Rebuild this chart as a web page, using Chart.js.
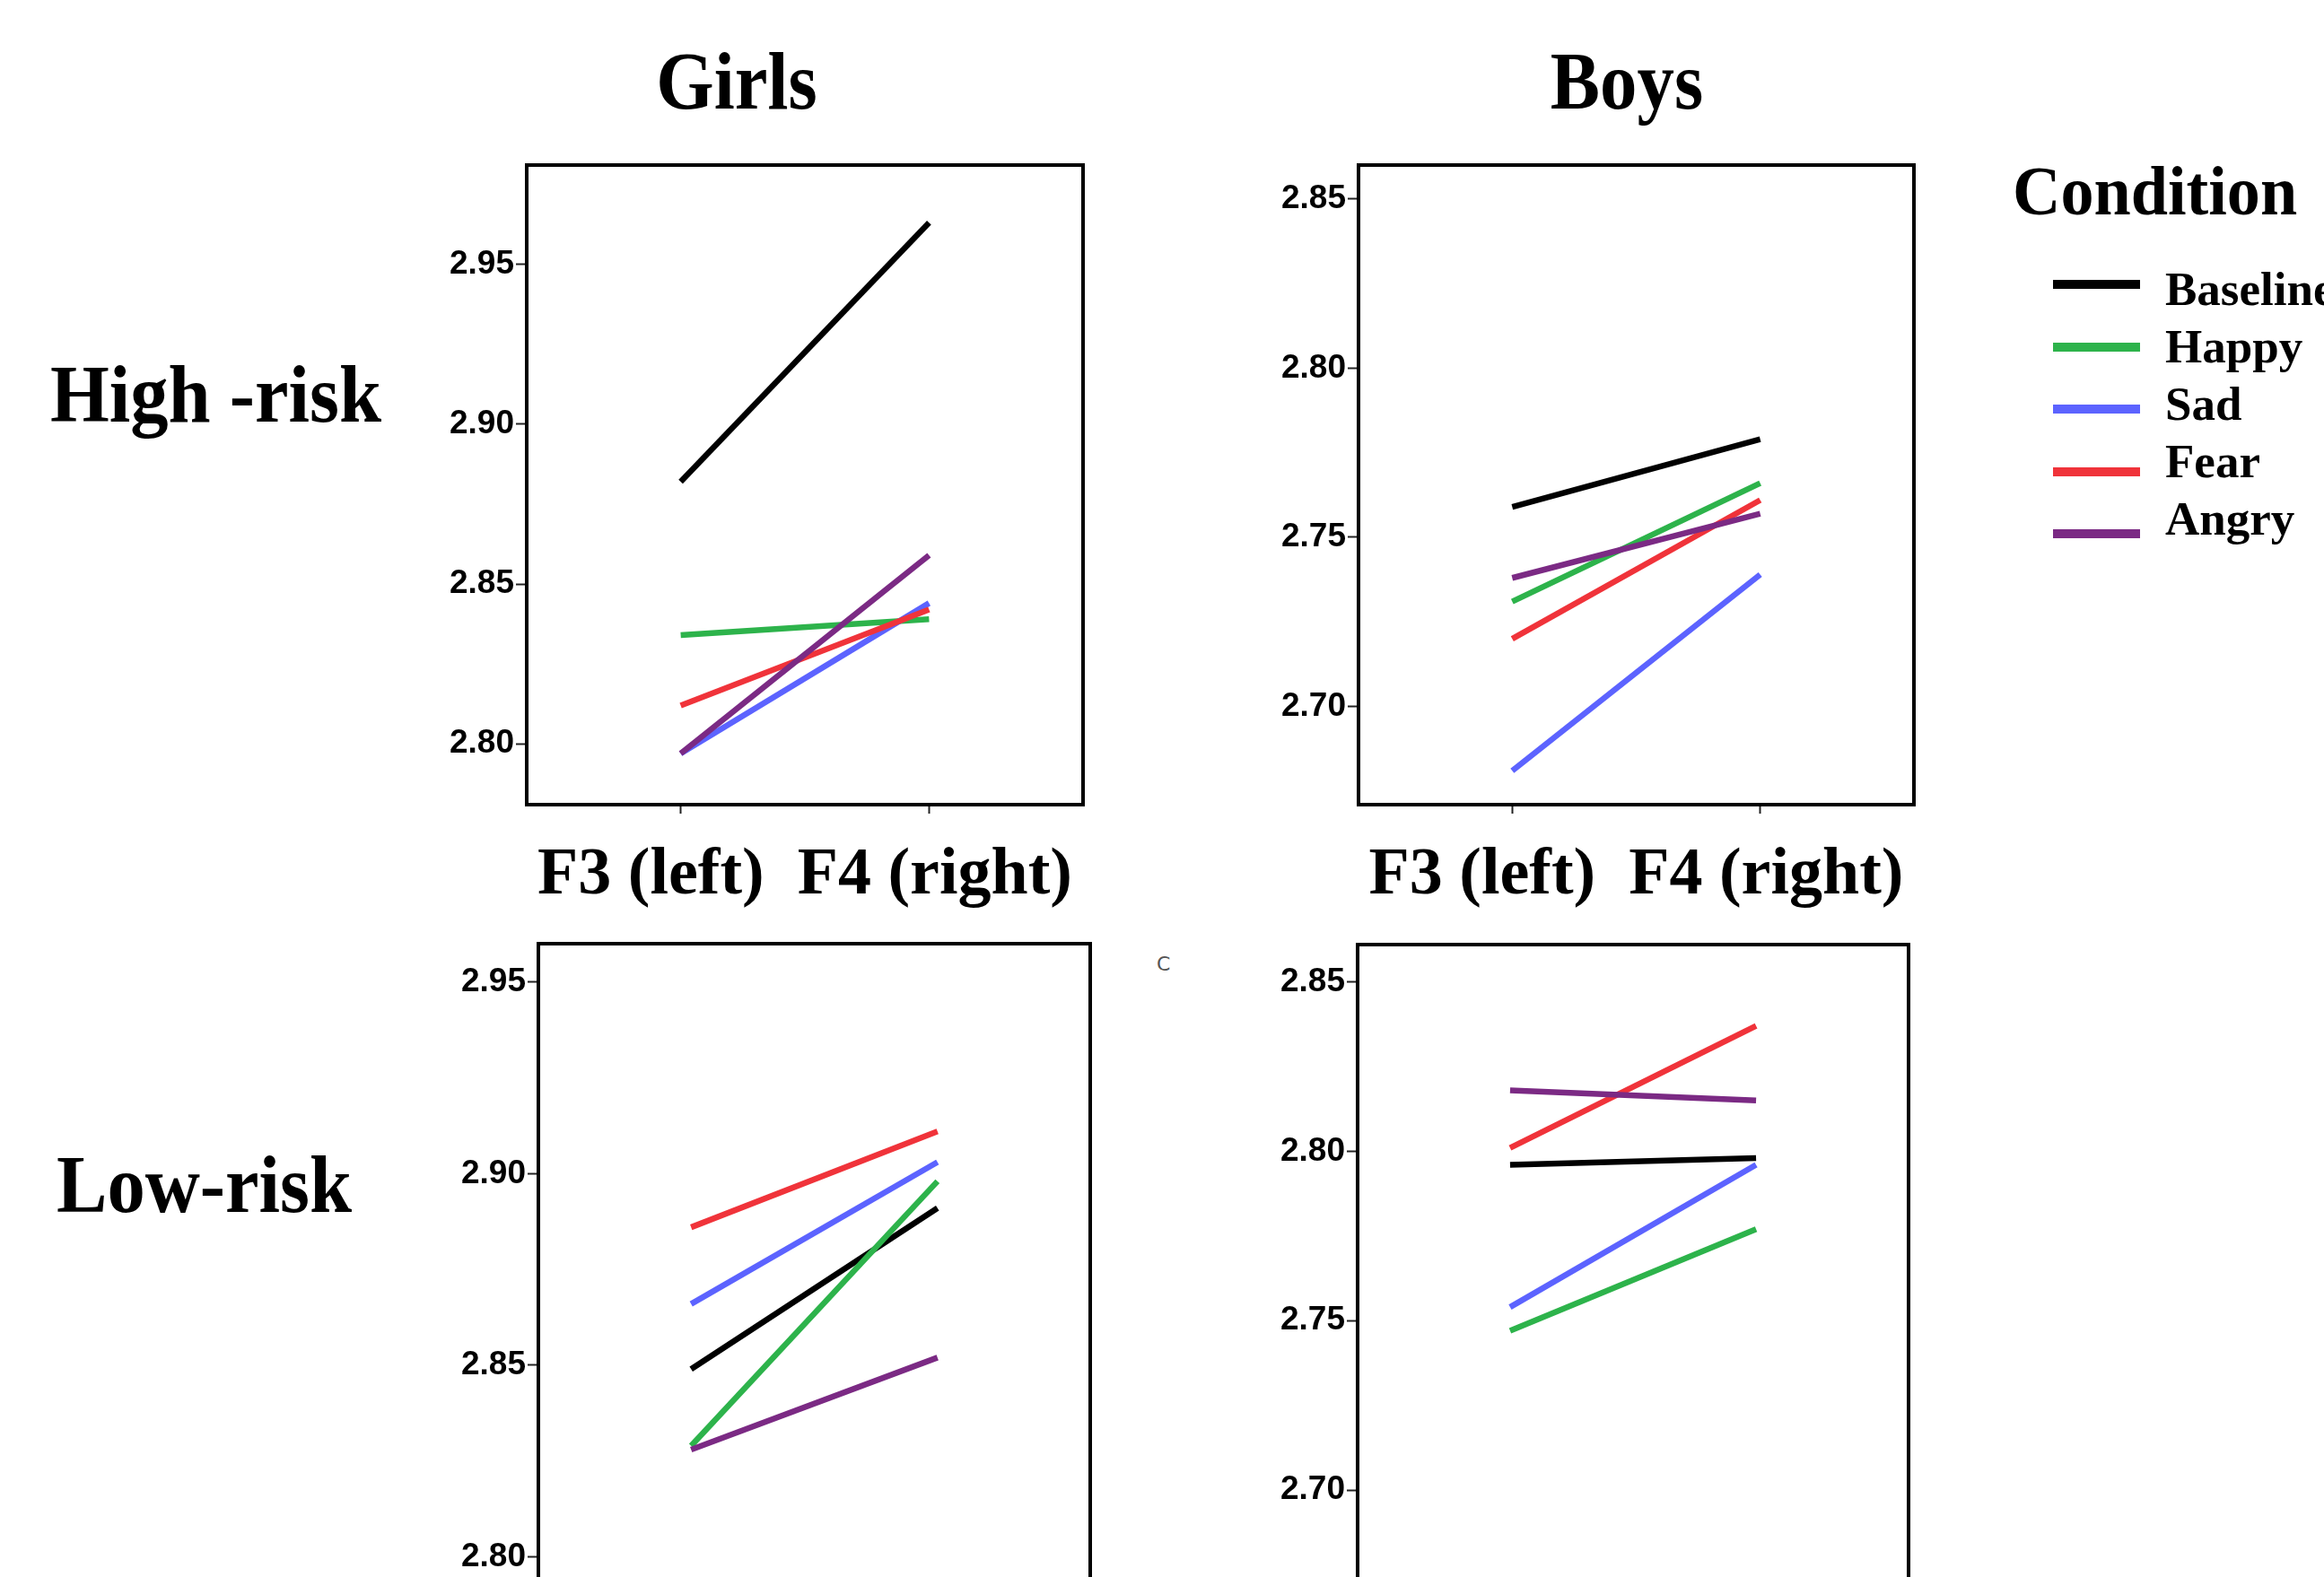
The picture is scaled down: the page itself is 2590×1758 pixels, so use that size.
<!DOCTYPE html>
<html>
<head>
<meta charset="utf-8">
<script src="https://cdn.jsdelivr.net/npm/chart.js@4.4.1/dist/chart.umd.min.js"></script>
<style>
html,body{margin:0;padding:0;width:2590px;height:1758px;overflow:hidden;background:#fff;}
.t{position:absolute;font-family:'Liberation Serif','Times New Roman',serif;font-weight:bold;color:#000;white-space:nowrap;line-height:1;}
.lg{position:absolute;height:10px;}
</style>
</head>
<body>
<script>
// ---------- data ----------
const conditions = ['Baseline', 'Happy', 'Sad', 'Fear', 'Angry'];
const conditionColors = ['#000000', '#2db34b', '#5c63ff', '#f0333a', '#7b2a84'];
const sites = ['F3 (left)', 'F4 (right)'];
const groups = ['Girls', 'Boys'];
const riskGroups = ['High -risk', 'Low-risk'];
const legendTitle = 'Condition';

// values in condition order: Baseline, Happy, Sad, Fear, Angry
const girlsHighF3 = [2.882, 2.834, 2.797, 2.812, 2.797];
const girlsHighF4 = [2.963, 2.839, 2.844, 2.842, 2.859];
const boysHighF3  = [2.759, 2.731, 2.681, 2.720, 2.738];
const boysHighF4  = [2.779, 2.766, 2.739, 2.761, 2.757];
const girlsLowF3  = [2.849, 2.829, 2.866, 2.886, 2.828];
const girlsLowF4  = [2.891, 2.898, 2.903, 2.911, 2.852];
const boysLowF3   = [2.796, 2.747, 2.754, 2.801, 2.818];
const boysLowF4   = [2.798, 2.777, 2.796, 2.837, 2.815];

const girlsHighTicks = [2.80, 2.85, 2.90, 2.95];
const boysHighTicks  = [2.70, 2.75, 2.80, 2.85];
const girlsLowTicks  = [2.80, 2.85, 2.90, 2.95];
const boysLowTicks   = [2.70, 2.75, 2.80, 2.85];

// ---------- layout ----------
const panels = [
  {L:587,  T:184,  W:620, H:713, min:2.781, max:2.981, f3:girlsHighF3, f4:girlsHighF4, ticks:girlsHighTicks},
  {L:1514, T:184,  W:619, H:713, min:2.671, max:2.860, f3:boysHighF3,  f4:boysHighF4,  ticks:boysHighTicks},
  {L:600,  T:1052, W:615, H:769, min:2.780, max:2.960, f3:girlsLowF3,  f4:girlsLowF4,  ticks:girlsLowTicks},
  {L:1513, T:1053, W:614, H:797, min:2.650, max:2.861, f3:boysLowF3,   f4:boysLowF4,   ticks:boysLowTicks}
];

const boxPlugin = {
  id: 'box',
  afterDatasetsDraw(chart) {
    const {ctx, chartArea: a} = chart;
    ctx.save();
    ctx.strokeStyle = '#000';
    ctx.lineWidth = 4;
    ctx.strokeRect(a.left, a.top, a.right - a.left, a.bottom - a.top);
    ctx.restore();
  }
};

function makePanel(p) {
  const padL = 130, padT = 30, padR = 30, xAxisH = 124;
  const cv = document.createElement('canvas');
  const w = padL + p.W + padR, h = padT + p.H + xAxisH;
  cv.width = w; cv.height = h;
  cv.style.cssText = `position:absolute;left:${p.L - padL}px;top:${p.T - padT}px;width:${w}px;height:${h}px;`;
  document.body.appendChild(cv);
  new Chart(cv, {
    type: 'line',
    data: {
      datasets: conditions.map((c, i) => ({
        label: c,
        data: sites.map((s, j) => ({x: j, y: (j === 0 ? p.f3 : p.f4)[i]})),
        borderColor: conditionColors[i],
        backgroundColor: conditionColors[i],
        borderWidth: 6.5,
        pointRadius: 0,
        pointHoverRadius: 0,
        tension: 0,
        borderCapStyle: 'butt',
        order: conditions.length - i
      }))
    },
    options: {
      responsive: false,
      animation: false,
      devicePixelRatio: 1,
      layout: {padding: {top: padT, right: padR, left: 0, bottom: 0}},
      plugins: {legend: {display: false}, tooltip: {enabled: false}},
      scales: {
        x: {
          type: 'linear', min: -0.62, max: 1.62,
          afterBuildTicks: s => { s.ticks = sites.map((_, j) => ({value: j})); },
          afterFit: s => { s.height = xAxisH; },
          ticks: {display: false},
          grid: {display: true, drawOnChartArea: false, drawTicks: true, tickLength: 10, tickWidth: 2, tickColor: '#222'},
          border: {display: false},
          title: {display: true, text: sites.join('  '), color: '#000', padding: 0,
                  font: {family: 'Liberation Serif', weight: 'bold', size: 74}}
        },
        y: {
          type: 'linear', min: p.min, max: p.max,
          afterBuildTicks: s => { s.ticks = p.ticks.map(v => ({value: v})); },
          afterFit: s => { s.width = padL; },
          ticks: {callback: v => v.toFixed(2), color: '#000', padding: 2,
                  font: {family: 'Liberation Sans', weight: 'bold', size: 37}},
          grid: {display: true, drawOnChartArea: false, drawTicks: true, tickLength: 12, tickWidth: 2, tickColor: '#222'},
          border: {display: false}
        }
      }
    },
    plugins: [boxPlugin]
  });
}
panels.forEach(makePanel);

// ---------- text ----------
function text(str, x, baseline, size, align, sx) {
  const d = document.createElement('div');
  d.className = 't';
  d.textContent = str;
  d.style.fontSize = size + 'px';
  d.style.top = (baseline - 0.8375 * size) + 'px';
  d.style.left = x + 'px';
  if (align === 'center') {
    d.style.transform = `translateX(-50%) scaleX(${sx})`;
  } else {
    d.style.transformOrigin = 'left center';
    d.style.transform = `scaleX(${sx})`;
  }
  document.body.appendChild(d);
  return d;
}
text(groups[0], 821, 121, 90, 'center', 0.92);
text(groups[1], 1813, 121, 90, 'center', 0.92);
text(riskGroups[0], 56, 470, 90, 'left', 0.94);
text(riskGroups[1], 63, 1351, 90, 'left', 0.94);
text(legendTitle, 2243, 239, 78, 'left', 0.95);
conditions.forEach((c, i) => {
  text(c, 2413, 340 + i * 64.2, 53, 'left', 1);
  const l = document.createElement('div');
  l.className = 'lg';
  l.style.left = '2288px';
  l.style.width = '97px';
  l.style.top = (317 + i * 69.5 - 5) + 'px';
  l.style.background = conditionColors[i];
  document.body.appendChild(l);
});
const stray = document.createElement('div');
stray.textContent = 'C';
stray.style.cssText = 'position:absolute;left:1289px;top:1064px;font-family:"DejaVu Sans";font-size:22px;color:#555;line-height:1;';
document.body.appendChild(stray);
</script>
</body>
</html>
